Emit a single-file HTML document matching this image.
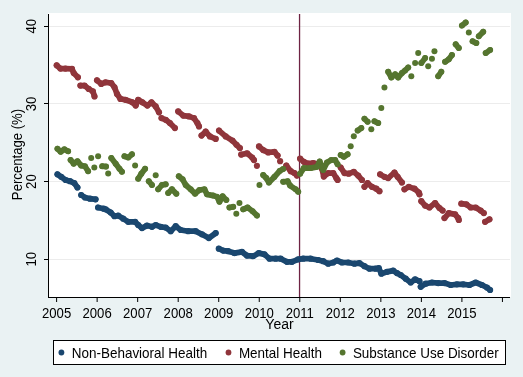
<!DOCTYPE html>
<html><head><meta charset="utf-8"><style>
html,body{margin:0;padding:0;width:523px;height:377px;overflow:hidden;background:#EAF2F3;}
svg{display:block;will-change:transform;}
.t{font-family:"Liberation Sans",sans-serif;font-size:14.3px;fill:#000;}
</style></head><body>
<svg width="523" height="377" viewBox="0 0 523 377"><rect x="0" y="0" width="523" height="377" fill="#EAF2F3"/>
<rect x="48" y="13" width="463" height="284" fill="#FFFFFF"/>
<rect x="49" y="259" width="461" height="1" fill="#ECECEC"/>
<rect x="49" y="181" width="461" height="1" fill="#ECECEC"/>
<rect x="49" y="103" width="461" height="1" fill="#ECECEC"/>
<rect x="49" y="26" width="461" height="1" fill="#ECECEC"/>
<rect x="298.9" y="14" width="1.3" height="283" fill="#6E2343"/>
<g fill="none" stroke-linecap="round" stroke-linejoin="round">
<g fill="#1A476F" stroke="#1A476F" stroke-width="5.7" stroke-linecap="round" stroke-linejoin="round"><polyline fill="none" points="57.45,174.35 61.20,176.85 65.60,180.00 69.95,181.20 74.30,183.10 77.45,187.50"/><polyline fill="none" points="81.20,195.00 84.95,197.50 89.95,198.70 95.60,199.35"/><polyline fill="none" points="98.10,207.50 103.70,208.70 105.70,209.35 110.70,212.50 114.45,216.20 118.20,215.60 123.20,218.70 128.20,221.85 135.10,221.85 138.20,225.00 141.95,228.10 146.95,225.60 151.95,226.85 155.70,225.00 160.70,226.85 165.70,227.50 170.70,231.20 175.70,226.20 180.70,230.00 188.20,231.20 195.70,231.20 201.95,234.35 208.80,238.10 215.70,233.10"/><polyline fill="none" points="218.80,248.70 223.20,250.60 228.20,251.20 234.45,253.10 241.95,251.85 246.95,255.60 253.20,256.20 258.80,253.10 264.45,254.35 269.45,258.70 275.70,258.70 280.70,258.70 286.95,261.85 291.95,261.85 298.20,259.35 303.20,258.70 310.70,258.70 318.20,260.00 323.20,261.20 328.20,263.70 333.20,262.50 336.95,260.50 341.95,262.50 348.20,262.50 354.45,263.70 359.45,263.10 364.45,266.20 369.45,268.70 375.70,268.70 378.80,268.10 381.30,273.70 386.95,271.85 393.20,270.60 396.95,273.10 400.70,275.00 405.70,278.70 410.70,282.50 415.10,279.35 419.45,281.20"/><polyline fill="none" points="420.70,286.85 425.70,283.70 431.95,282.50 438.20,283.10 444.45,283.10 450.70,285.00 456.95,284.35 463.20,284.35 469.45,285.00 475.70,282.50 481.95,285.00 486.95,287.50 490.10,290.00"/><circle cx="57.45" cy="174.35" r="3.1" stroke="none"/><circle cx="61.20" cy="176.85" r="3.1" stroke="none"/><circle cx="65.60" cy="180.00" r="3.1" stroke="none"/><circle cx="69.95" cy="181.20" r="3.1" stroke="none"/><circle cx="74.30" cy="183.10" r="3.1" stroke="none"/><circle cx="77.45" cy="187.50" r="3.1" stroke="none"/><circle cx="81.20" cy="195.00" r="3.1" stroke="none"/><circle cx="84.95" cy="197.50" r="3.1" stroke="none"/><circle cx="89.95" cy="198.70" r="3.1" stroke="none"/><circle cx="95.60" cy="199.35" r="3.1" stroke="none"/><circle cx="98.10" cy="207.50" r="3.1" stroke="none"/><circle cx="103.70" cy="208.70" r="3.1" stroke="none"/><circle cx="105.70" cy="209.35" r="3.1" stroke="none"/><circle cx="110.70" cy="212.50" r="3.1" stroke="none"/><circle cx="114.45" cy="216.20" r="3.1" stroke="none"/><circle cx="118.20" cy="215.60" r="3.1" stroke="none"/><circle cx="123.20" cy="218.70" r="3.1" stroke="none"/><circle cx="128.20" cy="221.85" r="3.1" stroke="none"/><circle cx="135.10" cy="221.85" r="3.1" stroke="none"/><circle cx="138.20" cy="225.00" r="3.1" stroke="none"/><circle cx="141.95" cy="228.10" r="3.1" stroke="none"/><circle cx="146.95" cy="225.60" r="3.1" stroke="none"/><circle cx="151.95" cy="226.85" r="3.1" stroke="none"/><circle cx="155.70" cy="225.00" r="3.1" stroke="none"/><circle cx="160.70" cy="226.85" r="3.1" stroke="none"/><circle cx="165.70" cy="227.50" r="3.1" stroke="none"/><circle cx="170.70" cy="231.20" r="3.1" stroke="none"/><circle cx="175.70" cy="226.20" r="3.1" stroke="none"/><circle cx="180.70" cy="230.00" r="3.1" stroke="none"/><circle cx="188.20" cy="231.20" r="3.1" stroke="none"/><circle cx="195.70" cy="231.20" r="3.1" stroke="none"/><circle cx="201.95" cy="234.35" r="3.1" stroke="none"/><circle cx="208.80" cy="238.10" r="3.1" stroke="none"/><circle cx="215.70" cy="233.10" r="3.1" stroke="none"/><circle cx="218.80" cy="248.70" r="3.1" stroke="none"/><circle cx="223.20" cy="250.60" r="3.1" stroke="none"/><circle cx="228.20" cy="251.20" r="3.1" stroke="none"/><circle cx="234.45" cy="253.10" r="3.1" stroke="none"/><circle cx="241.95" cy="251.85" r="3.1" stroke="none"/><circle cx="246.95" cy="255.60" r="3.1" stroke="none"/><circle cx="253.20" cy="256.20" r="3.1" stroke="none"/><circle cx="258.80" cy="253.10" r="3.1" stroke="none"/><circle cx="264.45" cy="254.35" r="3.1" stroke="none"/><circle cx="269.45" cy="258.70" r="3.1" stroke="none"/><circle cx="275.70" cy="258.70" r="3.1" stroke="none"/><circle cx="280.70" cy="258.70" r="3.1" stroke="none"/><circle cx="286.95" cy="261.85" r="3.1" stroke="none"/><circle cx="291.95" cy="261.85" r="3.1" stroke="none"/><circle cx="298.20" cy="259.35" r="3.1" stroke="none"/><circle cx="303.20" cy="258.70" r="3.1" stroke="none"/><circle cx="310.70" cy="258.70" r="3.1" stroke="none"/><circle cx="318.20" cy="260.00" r="3.1" stroke="none"/><circle cx="323.20" cy="261.20" r="3.1" stroke="none"/><circle cx="328.20" cy="263.70" r="3.1" stroke="none"/><circle cx="333.20" cy="262.50" r="3.1" stroke="none"/><circle cx="336.95" cy="260.50" r="3.1" stroke="none"/><circle cx="341.95" cy="262.50" r="3.1" stroke="none"/><circle cx="348.20" cy="262.50" r="3.1" stroke="none"/><circle cx="354.45" cy="263.70" r="3.1" stroke="none"/><circle cx="359.45" cy="263.10" r="3.1" stroke="none"/><circle cx="364.45" cy="266.20" r="3.1" stroke="none"/><circle cx="369.45" cy="268.70" r="3.1" stroke="none"/><circle cx="375.70" cy="268.70" r="3.1" stroke="none"/><circle cx="378.80" cy="268.10" r="3.1" stroke="none"/><circle cx="381.30" cy="273.70" r="3.1" stroke="none"/><circle cx="386.95" cy="271.85" r="3.1" stroke="none"/><circle cx="393.20" cy="270.60" r="3.1" stroke="none"/><circle cx="396.95" cy="273.10" r="3.1" stroke="none"/><circle cx="400.70" cy="275.00" r="3.1" stroke="none"/><circle cx="405.70" cy="278.70" r="3.1" stroke="none"/><circle cx="410.70" cy="282.50" r="3.1" stroke="none"/><circle cx="415.10" cy="279.35" r="3.1" stroke="none"/><circle cx="419.45" cy="281.20" r="3.1" stroke="none"/><circle cx="420.70" cy="286.85" r="3.1" stroke="none"/><circle cx="425.70" cy="283.70" r="3.1" stroke="none"/><circle cx="431.95" cy="282.50" r="3.1" stroke="none"/><circle cx="438.20" cy="283.10" r="3.1" stroke="none"/><circle cx="444.45" cy="283.10" r="3.1" stroke="none"/><circle cx="450.70" cy="285.00" r="3.1" stroke="none"/><circle cx="456.95" cy="284.35" r="3.1" stroke="none"/><circle cx="463.20" cy="284.35" r="3.1" stroke="none"/><circle cx="469.45" cy="285.00" r="3.1" stroke="none"/><circle cx="475.70" cy="282.50" r="3.1" stroke="none"/><circle cx="481.95" cy="285.00" r="3.1" stroke="none"/><circle cx="486.95" cy="287.50" r="3.1" stroke="none"/><circle cx="490.10" cy="290.00" r="3.1" stroke="none"/></g>
<g fill="#90353B" stroke="#90353B" stroke-width="5.7" stroke-linecap="round" stroke-linejoin="round"><polyline fill="none" points="56.70,65.30 60.40,68.60 65.40,68.60 72.00,68.90 73.70,73.10 77.90,77.30"/><polyline fill="none" points="80.40,85.60 84.50,85.60 88.70,88.90 92.90,91.40 94.50,96.40"/><polyline fill="none" points="97.00,80.30 101.20,83.90 105.40,82.30 111.20,83.10 114.50,87.30 117.00,93.90 120.40,98.90 125.40,99.80 132.40,102.30 135.70,105.60 138.20,99.80 142.40,102.30 147.40,105.60 151.50,102.30 155.70,106.40 159.00,112.30"/><polyline fill="none" points="161.50,118.10 165.70,119.80 169.90,123.10 174.90,128.10"/><polyline fill="none" points="178.20,111.40 183.20,115.60 189.00,116.40 194.00,118.10 197.40,123.10 199.00,126.40"/><polyline fill="none" points="201.50,135.60 205.70,131.60 209.90,136.40 215.70,138.90"/><polyline fill="none" points="219.00,130.60 225.70,136.40 232.40,140.60 236.50,144.80 239.90,148.10"/><polyline fill="none" points="241.20,154.60 247.10,153.30 252.20,157.60 254.00,160.10"/><polyline fill="none" points="259.00,146.40 263.20,150.10 268.20,152.40 274.45,151.85 277.60,155.60"/><polyline fill="none" points="286.30,165.60 290.70,171.20 294.45,173.10 296.95,175.60"/><polyline fill="none" points="300.10,158.70 303.80,161.85 308.20,163.70 313.20,163.10 319.45,164.35 321.95,168.70 323.80,176.60 328.20,173.10 333.20,173.10 336.30,178.10 337.60,180.00"/><polyline fill="none" points="340.70,167.50 344.45,173.10 348.80,173.70 353.80,171.85 358.20,175.60 361.95,180.00"/><polyline fill="none" points="364.45,186.85 367.60,183.10 371.95,186.85 376.30,188.70 379.45,191.20"/><polyline fill="none" points="380.10,174.35 384.45,176.85 388.20,178.10 394.45,172.50 397.60,176.85 401.95,182.50"/><polyline fill="none" points="404.45,189.35 408.80,186.85 414.45,188.70 418.80,192.50 419.45,194.35"/><polyline fill="none" points="421.30,201.20 425.10,205.60 429.45,207.50 435.10,203.10 439.45,208.10 442.60,210.60"/><polyline fill="none" points="444.45,218.10 448.80,213.10 455.10,214.35 458.20,218.10 458.80,220.00"/><polyline fill="none" points="461.30,203.70 466.30,204.35 470.70,207.50 475.70,207.50 480.70,210.60 483.80,213.10"/><polyline fill="none" points="485.10,221.85 489.45,219.35"/><circle cx="56.70" cy="65.30" r="3.1" stroke="none"/><circle cx="60.40" cy="68.60" r="3.1" stroke="none"/><circle cx="65.40" cy="68.60" r="3.1" stroke="none"/><circle cx="72.00" cy="68.90" r="3.1" stroke="none"/><circle cx="73.70" cy="73.10" r="3.1" stroke="none"/><circle cx="77.90" cy="77.30" r="3.1" stroke="none"/><circle cx="80.40" cy="85.60" r="3.1" stroke="none"/><circle cx="84.50" cy="85.60" r="3.1" stroke="none"/><circle cx="88.70" cy="88.90" r="3.1" stroke="none"/><circle cx="92.90" cy="91.40" r="3.1" stroke="none"/><circle cx="94.50" cy="96.40" r="3.1" stroke="none"/><circle cx="97.00" cy="80.30" r="3.1" stroke="none"/><circle cx="101.20" cy="83.90" r="3.1" stroke="none"/><circle cx="105.40" cy="82.30" r="3.1" stroke="none"/><circle cx="111.20" cy="83.10" r="3.1" stroke="none"/><circle cx="114.50" cy="87.30" r="3.1" stroke="none"/><circle cx="117.00" cy="93.90" r="3.1" stroke="none"/><circle cx="120.40" cy="98.90" r="3.1" stroke="none"/><circle cx="125.40" cy="99.80" r="3.1" stroke="none"/><circle cx="132.40" cy="102.30" r="3.1" stroke="none"/><circle cx="135.70" cy="105.60" r="3.1" stroke="none"/><circle cx="138.20" cy="99.80" r="3.1" stroke="none"/><circle cx="142.40" cy="102.30" r="3.1" stroke="none"/><circle cx="147.40" cy="105.60" r="3.1" stroke="none"/><circle cx="151.50" cy="102.30" r="3.1" stroke="none"/><circle cx="155.70" cy="106.40" r="3.1" stroke="none"/><circle cx="159.00" cy="112.30" r="3.1" stroke="none"/><circle cx="161.50" cy="118.10" r="3.1" stroke="none"/><circle cx="165.70" cy="119.80" r="3.1" stroke="none"/><circle cx="169.90" cy="123.10" r="3.1" stroke="none"/><circle cx="174.90" cy="128.10" r="3.1" stroke="none"/><circle cx="178.20" cy="111.40" r="3.1" stroke="none"/><circle cx="183.20" cy="115.60" r="3.1" stroke="none"/><circle cx="189.00" cy="116.40" r="3.1" stroke="none"/><circle cx="194.00" cy="118.10" r="3.1" stroke="none"/><circle cx="197.40" cy="123.10" r="3.1" stroke="none"/><circle cx="199.00" cy="126.40" r="3.1" stroke="none"/><circle cx="201.50" cy="135.60" r="3.1" stroke="none"/><circle cx="205.70" cy="131.60" r="3.1" stroke="none"/><circle cx="209.90" cy="136.40" r="3.1" stroke="none"/><circle cx="215.70" cy="138.90" r="3.1" stroke="none"/><circle cx="219.00" cy="130.60" r="3.1" stroke="none"/><circle cx="225.70" cy="136.40" r="3.1" stroke="none"/><circle cx="232.40" cy="140.60" r="3.1" stroke="none"/><circle cx="236.50" cy="144.80" r="3.1" stroke="none"/><circle cx="239.90" cy="148.10" r="3.1" stroke="none"/><circle cx="241.20" cy="154.60" r="3.1" stroke="none"/><circle cx="247.10" cy="153.30" r="3.1" stroke="none"/><circle cx="252.20" cy="157.60" r="3.1" stroke="none"/><circle cx="254.00" cy="160.10" r="3.1" stroke="none"/><circle cx="256.90" cy="165.80" r="3.1" stroke="none"/><circle cx="259.00" cy="146.40" r="3.1" stroke="none"/><circle cx="263.20" cy="150.10" r="3.1" stroke="none"/><circle cx="268.20" cy="152.40" r="3.1" stroke="none"/><circle cx="274.45" cy="151.85" r="3.1" stroke="none"/><circle cx="277.60" cy="155.60" r="3.1" stroke="none"/><circle cx="280.10" cy="161.20" r="3.1" stroke="none"/><circle cx="286.30" cy="165.60" r="3.1" stroke="none"/><circle cx="290.70" cy="171.20" r="3.1" stroke="none"/><circle cx="294.45" cy="173.10" r="3.1" stroke="none"/><circle cx="296.95" cy="175.60" r="3.1" stroke="none"/><circle cx="300.10" cy="158.70" r="3.1" stroke="none"/><circle cx="303.80" cy="161.85" r="3.1" stroke="none"/><circle cx="308.20" cy="163.70" r="3.1" stroke="none"/><circle cx="313.20" cy="163.10" r="3.1" stroke="none"/><circle cx="319.45" cy="164.35" r="3.1" stroke="none"/><circle cx="321.95" cy="168.70" r="3.1" stroke="none"/><circle cx="323.80" cy="176.60" r="3.1" stroke="none"/><circle cx="328.20" cy="173.10" r="3.1" stroke="none"/><circle cx="333.20" cy="173.10" r="3.1" stroke="none"/><circle cx="336.30" cy="178.10" r="3.1" stroke="none"/><circle cx="337.60" cy="180.00" r="3.1" stroke="none"/><circle cx="340.70" cy="167.50" r="3.1" stroke="none"/><circle cx="344.45" cy="173.10" r="3.1" stroke="none"/><circle cx="348.80" cy="173.70" r="3.1" stroke="none"/><circle cx="353.80" cy="171.85" r="3.1" stroke="none"/><circle cx="358.20" cy="175.60" r="3.1" stroke="none"/><circle cx="361.95" cy="180.00" r="3.1" stroke="none"/><circle cx="364.45" cy="186.85" r="3.1" stroke="none"/><circle cx="367.60" cy="183.10" r="3.1" stroke="none"/><circle cx="371.95" cy="186.85" r="3.1" stroke="none"/><circle cx="376.30" cy="188.70" r="3.1" stroke="none"/><circle cx="379.45" cy="191.20" r="3.1" stroke="none"/><circle cx="380.10" cy="174.35" r="3.1" stroke="none"/><circle cx="384.45" cy="176.85" r="3.1" stroke="none"/><circle cx="388.20" cy="178.10" r="3.1" stroke="none"/><circle cx="394.45" cy="172.50" r="3.1" stroke="none"/><circle cx="397.60" cy="176.85" r="3.1" stroke="none"/><circle cx="401.95" cy="182.50" r="3.1" stroke="none"/><circle cx="404.45" cy="189.35" r="3.1" stroke="none"/><circle cx="408.80" cy="186.85" r="3.1" stroke="none"/><circle cx="414.45" cy="188.70" r="3.1" stroke="none"/><circle cx="418.80" cy="192.50" r="3.1" stroke="none"/><circle cx="419.45" cy="194.35" r="3.1" stroke="none"/><circle cx="421.30" cy="201.20" r="3.1" stroke="none"/><circle cx="425.10" cy="205.60" r="3.1" stroke="none"/><circle cx="429.45" cy="207.50" r="3.1" stroke="none"/><circle cx="435.10" cy="203.10" r="3.1" stroke="none"/><circle cx="439.45" cy="208.10" r="3.1" stroke="none"/><circle cx="442.60" cy="210.60" r="3.1" stroke="none"/><circle cx="444.45" cy="218.10" r="3.1" stroke="none"/><circle cx="448.80" cy="213.10" r="3.1" stroke="none"/><circle cx="455.10" cy="214.35" r="3.1" stroke="none"/><circle cx="458.20" cy="218.10" r="3.1" stroke="none"/><circle cx="458.80" cy="220.00" r="3.1" stroke="none"/><circle cx="461.30" cy="203.70" r="3.1" stroke="none"/><circle cx="466.30" cy="204.35" r="3.1" stroke="none"/><circle cx="470.70" cy="207.50" r="3.1" stroke="none"/><circle cx="475.70" cy="207.50" r="3.1" stroke="none"/><circle cx="480.70" cy="210.60" r="3.1" stroke="none"/><circle cx="483.80" cy="213.10" r="3.1" stroke="none"/><circle cx="485.10" cy="221.85" r="3.1" stroke="none"/><circle cx="489.45" cy="219.35" r="3.1" stroke="none"/></g>
<g fill="#55752F" stroke="#55752F" stroke-width="5.7" stroke-linecap="round" stroke-linejoin="round"><polyline fill="none" points="57.45,148.70 60.60,151.85 64.30,149.35 68.10,151.20"/><polyline fill="none" points="70.60,160.00 73.70,163.70 77.45,161.20 81.20,165.60 84.95,166.20 88.10,171.20"/><polyline fill="none" points="102.20,166.20 106.00,166.60"/><polyline fill="none" points="111.30,158.10 115.70,163.70 119.45,168.70 121.95,171.85"/><polyline fill="none" points="124.45,156.20 128.20,157.50 131.95,154.35"/><polyline fill="none" points="138.20,178.70 141.30,173.70 145.10,168.70"/><polyline fill="none" points="148.80,181.20 151.95,185.00"/><polyline fill="none" points="158.20,189.35 161.95,185.00 165.70,184.35"/><polyline fill="none" points="168.20,193.10 171.95,189.35 176.30,193.70"/><polyline fill="none" points="178.80,176.20 182.60,179.35 185.70,185.00 190.70,189.35 195.10,193.70 199.45,190.00 204.45,189.35 206.95,194.35 213.20,195.60 216.95,196.85 219.45,201.85 222.60,196.20 226.30,200.00"/><polyline fill="none" points="229.45,207.50 233.20,206.85"/><polyline fill="none" points="243.20,209.35 247.60,207.50 252.60,211.20 256.95,215.60"/><polyline fill="none" points="263.20,175.10 266.30,178.10 268.90,182.60 274.30,177.00 279.60,171.10 283.20,169.10"/><polyline fill="none" points="283.20,181.85 287.60,181.20 290.10,185.60 295.70,189.35 298.20,191.85"/><polyline fill="none" points="300.10,173.70 303.80,168.10 310.70,168.10 316.95,166.85 319.70,161.60 323.20,170.10 326.95,162.50 331.30,160.00 335.10,160.00 337.60,164.35"/><polyline fill="none" points="340.70,155.00 343.80,156.85 347.60,154.35"/><polyline fill="none" points="357.70,130.60 361.30,128.10"/><polyline fill="none" points="364.45,118.70 367.60,121.85"/><polyline fill="none" points="374.45,121.20 378.20,123.10"/><polyline fill="none" points="388.20,71.85 391.30,77.50 395.10,74.35 398.20,77.50 401.95,73.10 405.10,70.60 408.20,67.50"/><polyline fill="none" points="421.30,63.10 425.10,58.10"/><polyline fill="none" points="438.20,76.20 441.30,71.85"/><polyline fill="none" points="445.10,61.85 448.80,59.35 451.95,55.00"/><polyline fill="none" points="455.70,44.35 458.80,48.10"/><polyline fill="none" points="461.95,25.60 465.70,22.50"/><polyline fill="none" points="472.60,41.20 476.30,43.10"/><polyline fill="none" points="478.80,36.20 483.20,31.85"/><polyline fill="none" points="485.70,53.10 490.10,50.00"/><circle cx="57.45" cy="148.70" r="3.0" stroke="none"/><circle cx="60.60" cy="151.85" r="3.0" stroke="none"/><circle cx="64.30" cy="149.35" r="3.0" stroke="none"/><circle cx="68.10" cy="151.20" r="3.0" stroke="none"/><circle cx="70.60" cy="160.00" r="3.0" stroke="none"/><circle cx="73.70" cy="163.70" r="3.0" stroke="none"/><circle cx="77.45" cy="161.20" r="3.0" stroke="none"/><circle cx="81.20" cy="165.60" r="3.0" stroke="none"/><circle cx="84.95" cy="166.20" r="3.0" stroke="none"/><circle cx="88.10" cy="171.20" r="3.0" stroke="none"/><circle cx="91.20" cy="158.10" r="3.0" stroke="none"/><circle cx="98.10" cy="156.20" r="3.0" stroke="none"/><circle cx="94.30" cy="167.50" r="3.0" stroke="none"/><circle cx="102.20" cy="166.20" r="3.0" stroke="none"/><circle cx="106.00" cy="166.60" r="3.0" stroke="none"/><circle cx="108.20" cy="173.40" r="3.0" stroke="none"/><circle cx="111.30" cy="158.10" r="3.0" stroke="none"/><circle cx="115.70" cy="163.70" r="3.0" stroke="none"/><circle cx="119.45" cy="168.70" r="3.0" stroke="none"/><circle cx="121.95" cy="171.85" r="3.0" stroke="none"/><circle cx="124.45" cy="156.20" r="3.0" stroke="none"/><circle cx="128.20" cy="157.50" r="3.0" stroke="none"/><circle cx="131.95" cy="154.35" r="3.0" stroke="none"/><circle cx="135.10" cy="165.60" r="3.0" stroke="none"/><circle cx="138.20" cy="178.70" r="3.0" stroke="none"/><circle cx="141.30" cy="173.70" r="3.0" stroke="none"/><circle cx="145.10" cy="168.70" r="3.0" stroke="none"/><circle cx="155.70" cy="175.30" r="3.0" stroke="none"/><circle cx="148.80" cy="181.20" r="3.0" stroke="none"/><circle cx="151.95" cy="185.00" r="3.0" stroke="none"/><circle cx="158.20" cy="189.35" r="3.0" stroke="none"/><circle cx="161.95" cy="185.00" r="3.0" stroke="none"/><circle cx="165.70" cy="184.35" r="3.0" stroke="none"/><circle cx="168.20" cy="193.10" r="3.0" stroke="none"/><circle cx="171.95" cy="189.35" r="3.0" stroke="none"/><circle cx="176.30" cy="193.70" r="3.0" stroke="none"/><circle cx="178.80" cy="176.20" r="3.0" stroke="none"/><circle cx="182.60" cy="179.35" r="3.0" stroke="none"/><circle cx="185.70" cy="185.00" r="3.0" stroke="none"/><circle cx="190.70" cy="189.35" r="3.0" stroke="none"/><circle cx="195.10" cy="193.70" r="3.0" stroke="none"/><circle cx="199.45" cy="190.00" r="3.0" stroke="none"/><circle cx="204.45" cy="189.35" r="3.0" stroke="none"/><circle cx="206.95" cy="194.35" r="3.0" stroke="none"/><circle cx="213.20" cy="195.60" r="3.0" stroke="none"/><circle cx="216.95" cy="196.85" r="3.0" stroke="none"/><circle cx="219.45" cy="201.85" r="3.0" stroke="none"/><circle cx="222.60" cy="196.20" r="3.0" stroke="none"/><circle cx="226.30" cy="200.00" r="3.0" stroke="none"/><circle cx="229.45" cy="207.50" r="3.0" stroke="none"/><circle cx="233.20" cy="206.85" r="3.0" stroke="none"/><circle cx="236.30" cy="213.70" r="3.0" stroke="none"/><circle cx="239.45" cy="203.10" r="3.0" stroke="none"/><circle cx="243.20" cy="209.35" r="3.0" stroke="none"/><circle cx="247.60" cy="207.50" r="3.0" stroke="none"/><circle cx="252.60" cy="211.20" r="3.0" stroke="none"/><circle cx="256.95" cy="215.60" r="3.0" stroke="none"/><circle cx="259.45" cy="185.00" r="3.0" stroke="none"/><circle cx="263.20" cy="175.10" r="3.0" stroke="none"/><circle cx="266.30" cy="178.10" r="3.0" stroke="none"/><circle cx="268.90" cy="182.60" r="3.0" stroke="none"/><circle cx="274.30" cy="177.00" r="3.0" stroke="none"/><circle cx="279.60" cy="171.10" r="3.0" stroke="none"/><circle cx="283.20" cy="169.10" r="3.0" stroke="none"/><circle cx="283.20" cy="181.85" r="3.0" stroke="none"/><circle cx="287.60" cy="181.20" r="3.0" stroke="none"/><circle cx="290.10" cy="185.60" r="3.0" stroke="none"/><circle cx="295.70" cy="189.35" r="3.0" stroke="none"/><circle cx="298.20" cy="191.85" r="3.0" stroke="none"/><circle cx="300.10" cy="173.70" r="3.0" stroke="none"/><circle cx="303.80" cy="168.10" r="3.0" stroke="none"/><circle cx="310.70" cy="168.10" r="3.0" stroke="none"/><circle cx="316.95" cy="166.85" r="3.0" stroke="none"/><circle cx="319.70" cy="161.60" r="3.0" stroke="none"/><circle cx="323.20" cy="170.10" r="3.0" stroke="none"/><circle cx="326.95" cy="162.50" r="3.0" stroke="none"/><circle cx="331.30" cy="160.00" r="3.0" stroke="none"/><circle cx="335.10" cy="160.00" r="3.0" stroke="none"/><circle cx="337.60" cy="164.35" r="3.0" stroke="none"/><circle cx="340.70" cy="155.00" r="3.0" stroke="none"/><circle cx="343.80" cy="156.85" r="3.0" stroke="none"/><circle cx="347.60" cy="154.35" r="3.0" stroke="none"/><circle cx="350.70" cy="146.20" r="3.0" stroke="none"/><circle cx="353.80" cy="136.20" r="3.0" stroke="none"/><circle cx="357.70" cy="130.60" r="3.0" stroke="none"/><circle cx="361.30" cy="128.10" r="3.0" stroke="none"/><circle cx="364.45" cy="118.70" r="3.0" stroke="none"/><circle cx="367.60" cy="121.85" r="3.0" stroke="none"/><circle cx="371.30" cy="129.35" r="3.0" stroke="none"/><circle cx="374.45" cy="121.20" r="3.0" stroke="none"/><circle cx="378.20" cy="123.10" r="3.0" stroke="none"/><circle cx="381.30" cy="108.10" r="3.0" stroke="none"/><circle cx="384.45" cy="87.50" r="3.0" stroke="none"/><circle cx="388.20" cy="71.85" r="3.0" stroke="none"/><circle cx="391.30" cy="77.50" r="3.0" stroke="none"/><circle cx="395.10" cy="74.35" r="3.0" stroke="none"/><circle cx="398.20" cy="77.50" r="3.0" stroke="none"/><circle cx="401.95" cy="73.10" r="3.0" stroke="none"/><circle cx="405.10" cy="70.60" r="3.0" stroke="none"/><circle cx="408.20" cy="67.50" r="3.0" stroke="none"/><circle cx="411.30" cy="76.20" r="3.0" stroke="none"/><circle cx="415.10" cy="63.10" r="3.0" stroke="none"/><circle cx="418.20" cy="53.10" r="3.0" stroke="none"/><circle cx="421.30" cy="63.10" r="3.0" stroke="none"/><circle cx="425.10" cy="58.10" r="3.0" stroke="none"/><circle cx="428.20" cy="66.20" r="3.0" stroke="none"/><circle cx="431.95" cy="58.70" r="3.0" stroke="none"/><circle cx="434.45" cy="51.20" r="3.0" stroke="none"/><circle cx="438.20" cy="76.20" r="3.0" stroke="none"/><circle cx="441.30" cy="71.85" r="3.0" stroke="none"/><circle cx="445.10" cy="61.85" r="3.0" stroke="none"/><circle cx="448.80" cy="59.35" r="3.0" stroke="none"/><circle cx="451.95" cy="55.00" r="3.0" stroke="none"/><circle cx="455.70" cy="44.35" r="3.0" stroke="none"/><circle cx="458.80" cy="48.10" r="3.0" stroke="none"/><circle cx="461.95" cy="25.60" r="3.0" stroke="none"/><circle cx="465.70" cy="22.50" r="3.0" stroke="none"/><circle cx="468.80" cy="32.50" r="3.0" stroke="none"/><circle cx="472.60" cy="41.20" r="3.0" stroke="none"/><circle cx="476.30" cy="43.10" r="3.0" stroke="none"/><circle cx="478.80" cy="36.20" r="3.0" stroke="none"/><circle cx="483.20" cy="31.85" r="3.0" stroke="none"/><circle cx="485.70" cy="53.10" r="3.0" stroke="none"/><circle cx="490.10" cy="50.00" r="3.0" stroke="none"/></g>
</g>
<rect x="48" y="14" width="1" height="284" fill="#000"/>
<rect x="48" y="297" width="462" height="1" fill="#000"/>
<rect x="44" y="259" width="4" height="1" fill="#000"/>
<text x="0" y="0" transform="translate(36.00,259.30) rotate(-90) scale(0.92,1)" text-anchor="middle" class="t">10</text>
<rect x="44" y="181" width="4" height="1" fill="#000"/>
<text x="0" y="0" transform="translate(36.00,181.60) rotate(-90) scale(0.92,1)" text-anchor="middle" class="t">20</text>
<rect x="44" y="103" width="4" height="1" fill="#000"/>
<text x="0" y="0" transform="translate(36.00,103.90) rotate(-90) scale(0.92,1)" text-anchor="middle" class="t">30</text>
<rect x="44" y="26" width="4" height="1" fill="#000"/>
<text x="0" y="0" transform="translate(36.00,26.20) rotate(-90) scale(0.92,1)" text-anchor="middle" class="t">40</text>
<rect x="56.10" y="297" width="1" height="5" fill="#000"/>
<text x="0" y="0" transform="translate(56.60,318.00) scale(0.92,1)" text-anchor="middle" class="t">2005</text>
<rect x="96.63" y="297" width="1" height="5" fill="#000"/>
<text x="0" y="0" transform="translate(97.13,318.00) scale(0.92,1)" text-anchor="middle" class="t">2006</text>
<rect x="137.16" y="297" width="1" height="5" fill="#000"/>
<text x="0" y="0" transform="translate(137.66,318.00) scale(0.92,1)" text-anchor="middle" class="t">2007</text>
<rect x="177.69" y="297" width="1" height="5" fill="#000"/>
<text x="0" y="0" transform="translate(178.19,318.00) scale(0.92,1)" text-anchor="middle" class="t">2008</text>
<rect x="218.22" y="297" width="1" height="5" fill="#000"/>
<text x="0" y="0" transform="translate(218.72,318.00) scale(0.92,1)" text-anchor="middle" class="t">2009</text>
<rect x="258.75" y="297" width="1" height="5" fill="#000"/>
<text x="0" y="0" transform="translate(259.25,318.00) scale(0.92,1)" text-anchor="middle" class="t">2010</text>
<rect x="299.28" y="297" width="1" height="5" fill="#000"/>
<text x="0" y="0" transform="translate(299.78,318.00) scale(0.92,1)" text-anchor="middle" class="t">2011</text>
<rect x="339.81" y="297" width="1" height="5" fill="#000"/>
<text x="0" y="0" transform="translate(340.31,318.00) scale(0.92,1)" text-anchor="middle" class="t">2012</text>
<rect x="380.34" y="297" width="1" height="5" fill="#000"/>
<text x="0" y="0" transform="translate(380.84,318.00) scale(0.92,1)" text-anchor="middle" class="t">2013</text>
<rect x="420.87" y="297" width="1" height="5" fill="#000"/>
<text x="0" y="0" transform="translate(421.37,318.00) scale(0.92,1)" text-anchor="middle" class="t">2014</text>
<rect x="461.40" y="297" width="1" height="5" fill="#000"/>
<text x="0" y="0" transform="translate(461.90,318.00) scale(0.92,1)" text-anchor="middle" class="t">2015</text>
<rect x="501.93" y="297" width="1" height="5" fill="#000"/>
<text x="0" y="0" transform="translate(279.50,328.60) scale(0.98,1)" text-anchor="middle" class="t">Year</text>
<text x="0" y="0" transform="translate(22.00,154.50) rotate(-90) scale(0.92,1)" text-anchor="middle" class="t">Percentage (%)</text>
<rect x="53.5" y="340.5" width="452" height="24" fill="#FFFFFF" stroke="#000" stroke-width="1"/>
<circle cx="61.4" cy="352.5" r="2.9" fill="#1A476F"/>
<text x="0" y="0" transform="translate(71.80,357.60) scale(0.942,1)" class="t">Non-Behavioral Health</text>
<circle cx="228.5" cy="352.5" r="2.9" fill="#90353B"/>
<text x="0" y="0" transform="translate(238.90,357.60) scale(0.942,1)" class="t">Mental Health</text>
<circle cx="342.6" cy="352.5" r="2.9" fill="#55752F"/>
<text x="0" y="0" transform="translate(352.90,357.60) scale(0.942,1)" class="t">Substance Use Disorder</text></svg>
</body></html>
